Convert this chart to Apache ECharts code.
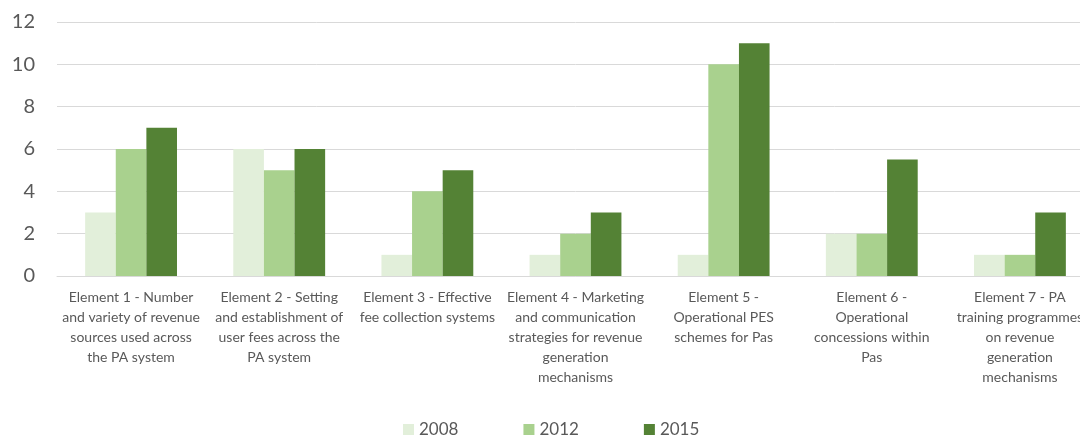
<!DOCTYPE html>
<html>
<head>
<meta charset="utf-8">
<script src="https://cdn.jsdelivr.net/npm/echarts@6/dist/echarts.min.js"></script>
<style>
  html, body { margin: 0; padding: 0; background: #fff; overflow: hidden; }
  #chart { width: 1094px; height: 437px; }
</style>
</head>
<body>
<div id="chart"></div>
<script>
const categories = [
  'Element 1 - Number\nand variety of revenue\nsources used across\nthe PA system',
  'Element 2 - Setting\nand establishment of\nuser fees across the\nPA system',
  'Element 3 - Effective\nfee collection systems',
  'Element 4 - Marketing\nand communication\nstrategies for revenue\ngeneration\nmechanisms',
  'Element 5 -\nOperational PES\nschemes for Pas',
  'Element 6 -\nOperational\nconcessions within\nPas',
  'Element 7 - PA\ntraining programmes\non revenue\ngeneration\nmechanisms'
]
const values2008 = [3, 6, 1, 1, 1, 2, 1]
const values2012 = [6, 5, 4, 2, 10, 2, 1]
const values2015 = [7, 6, 5, 3, 11, 5.5, 3]

const chart = echarts.init(document.getElementById('chart'))

const textColor = '#595959'
const font = 'Lato, "Liberation Sans", sans-serif'

const bar = (name, data, color) => ({
  name,
  type: 'bar',
  data,
  barGap: 0,
  barCategoryGap: '38%',
  itemStyle: { color },
  emphasis: { disabled: true }
})

chart.setOption({
  animation: false,
  grid: { left: 57, right: 0, top: 22, bottom: 161, containLabel: false },
  legend: {
    top: 416,
    left: 398,
    itemWidth: 11,
    itemHeight: 11,
    itemGap: 65,
    icon: 'rect',
    textStyle: { color: textColor, fontSize: 17, fontFamily: font },
    data: ['2008', '2012', '2015']
  },
  xAxis: {
    type: 'category',
    data: categories,
    axisLine: { lineStyle: { color: '#d9d9d9', width: 1 } },
    axisTick: { show: false },
    axisLabel: {
      interval: 0,
      color: textColor,
      fontSize: 14,
      lineHeight: 20,
      fontFamily: font,
      margin: 11
    }
  },
  yAxis: {
    type: 'value',
    min: 0,
    max: 12,
    interval: 2,
    axisLine: { show: false },
    axisTick: { show: false },
    splitLine: { lineStyle: { color: '#d9d9d9', width: 1 } },
    axisLabel: { color: textColor, fontSize: 20, fontFamily: font, margin: 22 }
  },
  series: [
    bar('2008', values2008, '#e2efda'),
    bar('2012', values2012, '#a9d18e'),
    bar('2015', values2015, '#548235')
  ]
})
</script>
</body>
</html>
